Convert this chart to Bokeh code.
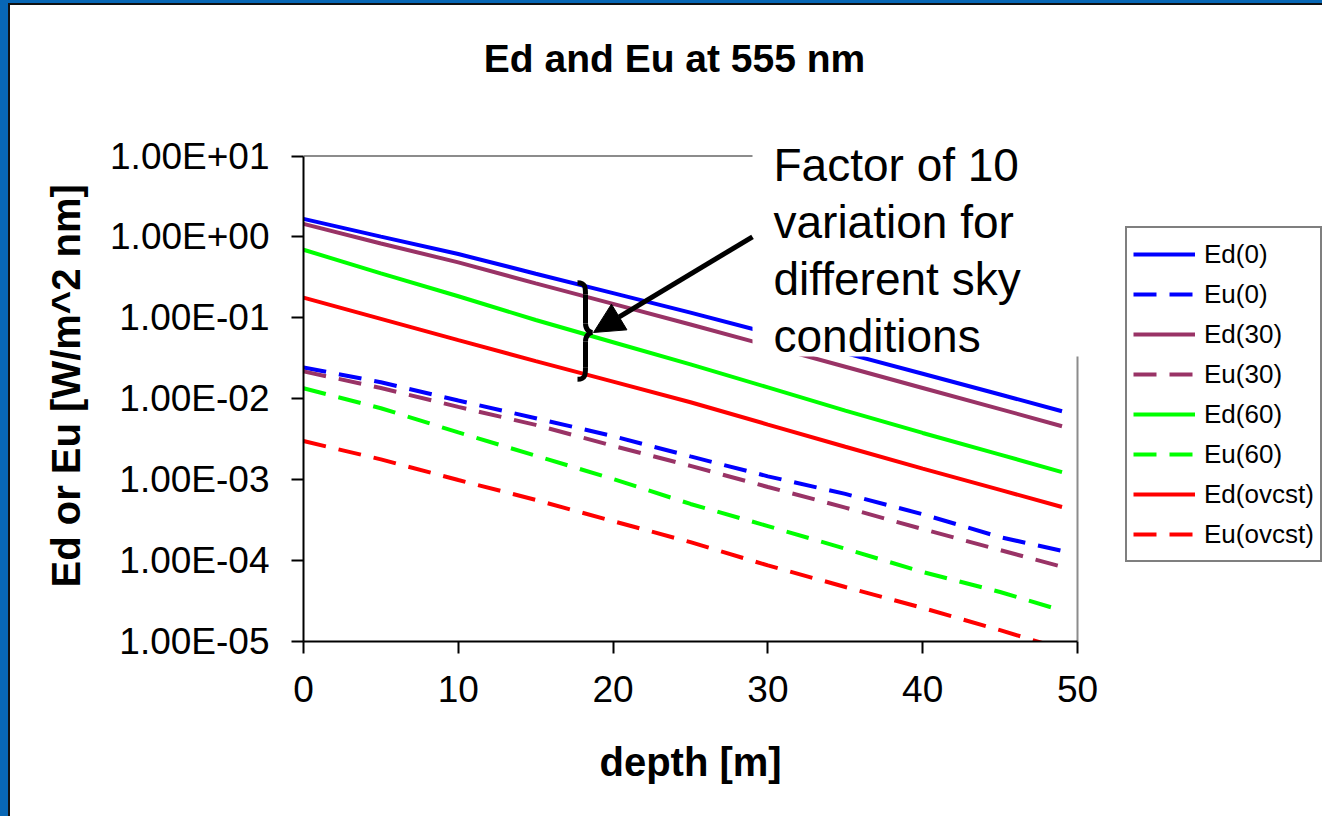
from bokeh.plotting import figure
from bokeh.models import (FixedTicker, Legend, LegendItem, Label, Arrow, NormalHead, Spacer, Title)
from bokeh.layouts import row, column
from bokeh.embed import file_html
from bokeh.resources import INLINE
import math

# ---------------- data ----------------
depth = [0, 5, 10, 15, 20, 25, 30, 35, 40, 45, 49]
Ed_0 = [1.67, 1.01, 0.615, 0.351, 0.202, 0.116, 0.0653, 0.0367, 0.0204, 0.0113, 0.0070]
Eu_0 = [0.0244, 0.0160, 0.00951, 0.00575, 0.00345, 0.00194, 0.00110, 0.000667, 0.000374, 0.000195, 0.000132]
Ed_30 = [1.45, 0.830, 0.485, 0.267, 0.149, 0.0828, 0.0454, 0.0249, 0.0136, 0.00745, 0.00458]
Eu_30 = [0.0218, 0.0136, 0.00793, 0.00475, 0.00262, 0.00148, 0.000813, 0.000452, 0.000245, 0.000135, 0.0000840]
Ed_60 = [0.695, 0.354, 0.185, 0.0940, 0.0500, 0.0266, 0.0138, 0.00715, 0.00378, 0.00204, 0.00124]
Eu_60 = [0.0135, 0.00764, 0.00384, 0.00198, 0.00102, 0.000501, 0.000267, 0.000140, 0.0000723, 0.0000409, 0.0000241]
Ed_ovcst = [0.178, 0.0973, 0.0530, 0.0292, 0.0163, 0.00906, 0.00480, 0.00255, 0.00137, 0.000748, 0.000460]
Eu_ovcst = [0.00300, 0.00178, 0.000991, 0.000562, 0.000307, 0.000169, 0.0000871, 0.0000472, 0.0000260, 0.0000138, 0.0000081]

series_names = ["Ed(0)", "Eu(0)", "Ed(30)", "Eu(30)", "Ed(60)", "Eu(60)", "Ed(ovcst)", "Eu(ovcst)"]
series_values = [Ed_0, Eu_0, Ed_30, Eu_30, Ed_60, Eu_60, Ed_ovcst, Eu_ovcst]

x_ticks = [0, 10, 20, 30, 40, 50]
x_tick_labels = ["0", "10", "20", "30", "40", "50"]
y_ticks = [1e-5, 1e-4, 1e-3, 1e-2, 1e-1, 1.0, 10.0]
y_tick_labels = ["1.00E-05", "1.00E-04", "1.00E-03", "1.00E-02", "1.00E-01", "1.00E+00", "1.00E+01"]

title_text = "Ed and Eu at 555 nm"
x_label = "depth [m]"
y_label = "Ed or Eu [W/m^2 nm]"
note_lines = ["Factor of 10", "variation for", "different sky", "conditions"]

# ---------------- styles ----------------
colors = ["#0000FF", "#0000FF", "#993366", "#993366", "#00FF00", "#00FF00", "#FF0000", "#FF0000"]
dashes = ["solid", "23 13", "solid", "23 13", "solid", "23 13", "solid", "23 13"]
FONT = "Liberation Sans"
BLUE = "#0867B5"

X0, X1 = 0, 50          # data (axis) extent
Y0, Y1 = 1e-5, 10.0

# page geometry
FIG_LEFT, FIG_TOP = 10, 5
FIG_W, FIG_H = 1312, 811
D_L, D_T, D_R, D_B = 303, 156, 1077, 643   # axis box on the page


def px2x(xp):
    return X0 + (xp - D_L) / (D_R - D_L) * (X1 - X0)


def px2y(yp):
    lo, hi = math.log10(Y0), math.log10(Y1)
    return 10 ** (hi - (yp - D_T) / (D_B - D_T) * (hi - lo))


# frame extends to the top/right edges of the figure so annotations are not clipped
p = figure(width=FIG_W, height=FIG_H,
           x_range=(X0, px2x(FIG_LEFT + FIG_W)), y_range=(Y0, px2y(FIG_TOP)),
           y_axis_type="log", output_backend="svg", toolbar_location=None,
           min_border_left=D_L - FIG_LEFT, min_border_top=0, min_border_right=0,
           min_border_bottom=FIG_TOP + FIG_H - D_B,
           background_fill_color="white", border_fill_color="white",
           outline_line_color=None)
p.grid.visible = False

for ax in (p.xaxis[0], p.yaxis[0]):
    ax.axis_line_color = "black"
    ax.axis_line_width = 2
    ax.major_tick_line_color = "black"
    ax.major_tick_line_width = 2
    ax.major_tick_out = 12
    ax.major_tick_in = 0
    ax.minor_tick_line_color = None
    ax.major_label_text_font = FONT
    ax.major_label_text_font_size = "37px"
    ax.major_label_text_color = "black"

p.xaxis.bounds = (X0, X1)
p.xaxis.ticker = FixedTicker(ticks=x_ticks)
p.xaxis.major_label_overrides = dict(zip(x_ticks, x_tick_labels))
p.xaxis.major_label_standoff = 22

p.yaxis.bounds = (Y0, Y1)
p.yaxis.ticker = FixedTicker(ticks=y_ticks)
p.yaxis.major_label_overrides = dict(zip(y_ticks, y_tick_labels))
p.yaxis.major_label_standoff = 22

# axis titles placed in the side panels so they can be centred on the axis box
LBL_SIZE = 40
p.add_layout(Title(text=x_label, text_font=FONT, text_font_size=f"{LBL_SIZE}px",
                   text_font_style="bold", text_color="black",
                   align="left", offset=599 - D_L, standoff=66), "below")
p.add_layout(Title(text=y_label, text_font=FONT, text_font_size=f"{LBL_SIZE}px",
                   text_font_style="bold", text_color="black",
                   align="left", offset=D_B - 589, standoff=40), "left")

# data lines
items = []
for name, vals, c, d in zip(series_names, series_values, colors, dashes):
    r = p.line(depth, vals, line_color=c, line_width=4, line_dash=d)
    items.append(LegendItem(label=name, renderers=[r]))

# white box behind the note text
p.quad(left=px2x(752), right=px2x(1082), top=px2y(130), bottom=px2y(357),
       fill_color="white", line_color=None)

# partial plot-area border (gray)
p.segment(x0=[X0], y0=[Y1], x1=[px2x(752)], y1=[Y1], line_color="#8c8c8c", line_width=2)
p.segment(x0=[X1], y0=[px2y(357)], x1=[X1], y1=[Y0], line_color="#8c8c8c", line_width=2)

# curly brace
bx_tip, bx_stem, bx_mid = 577, 585, 592
by_top, by_mid, by_bot = 283, 333, 380
segs = [
    ((bx_tip, by_top), (bx_stem, by_top + 12), (bx_stem, by_top), (bx_stem, by_top + 5)),
    ((bx_stem, by_top + 12), (bx_stem, by_mid - 9), (bx_stem, by_top + 12), (bx_stem, by_mid - 9)),
    ((bx_stem, by_mid - 9), (bx_mid, by_mid), (bx_stem, by_mid - 3), (bx_mid - 3, by_mid)),
    ((bx_mid, by_mid), (bx_stem, by_mid + 9), (bx_mid - 3, by_mid), (bx_stem, by_mid + 3)),
    ((bx_stem, by_mid + 9), (bx_stem, by_bot - 12), (bx_stem, by_mid + 9), (bx_stem, by_bot - 12)),
    ((bx_stem, by_bot - 12), (bx_tip, by_bot), (bx_stem, by_bot - 5), (bx_stem, by_bot)),
]
p.bezier(x0=[px2x(s[0][0]) for s in segs], y0=[px2y(s[0][1]) for s in segs],
         x1=[px2x(s[1][0]) for s in segs], y1=[px2y(s[1][1]) for s in segs],
         cx0=[px2x(s[2][0]) for s in segs], cy0=[px2y(s[2][1]) for s in segs],
         cx1=[px2x(s[3][0]) for s in segs], cy1=[px2y(s[3][1]) for s in segs],
         line_color="black", line_width=5)

# arrow
p.add_layout(Arrow(end=NormalHead(size=30, fill_color="black", line_color="black"),
                   x_start=px2x(752), y_start=px2y(237), x_end=px2x(593), y_end=px2y(333),
                   line_color="black", line_width=5))

# note text
for i, t in enumerate(note_lines):
    p.add_layout(Label(x=px2x(773), y=px2y(164.5 + 57.5 * i), text=t,
                       text_font=FONT, text_font_size="46px", text_color="black",
                       text_baseline="alphabetic", text_align="left"))

# chart title
p.add_layout(Label(x=px2x(674), y=px2y(58), text=title_text, text_font=FONT,
                   text_font_size="39px", text_font_style="bold", text_color="black",
                   text_align="center", text_baseline="middle"))

# legend
legend = Legend(items=items, location=(1125 - D_L, D_B - 564),
                glyph_width=62, glyph_height=40, label_height=40, spacing=0,
                padding=6, margin=0, label_standoff=9,
                label_text_font=FONT, label_text_font_size="26px", label_text_color="black",
                border_line_color="black", border_line_width=2,
                background_fill_color="white", background_fill_alpha=1.0)
p.add_layout(legend)

# page frame (blue band and thin dark line)
top_blue = Spacer(width=1322, height=3, styles={"background-color": BLUE})
left_blue = Spacer(width=8, height=813, styles={"background-color": BLUE})
left_black = Spacer(width=2, height=813, styles={"background-color": "#111111"})
top_black = Spacer(width=FIG_W, height=2, styles={"background-color": "#111111"})
layout = column(top_blue, row(left_blue, left_black, column(top_black, p)))

open("out.html", "w").write(file_html(layout, INLINE))
